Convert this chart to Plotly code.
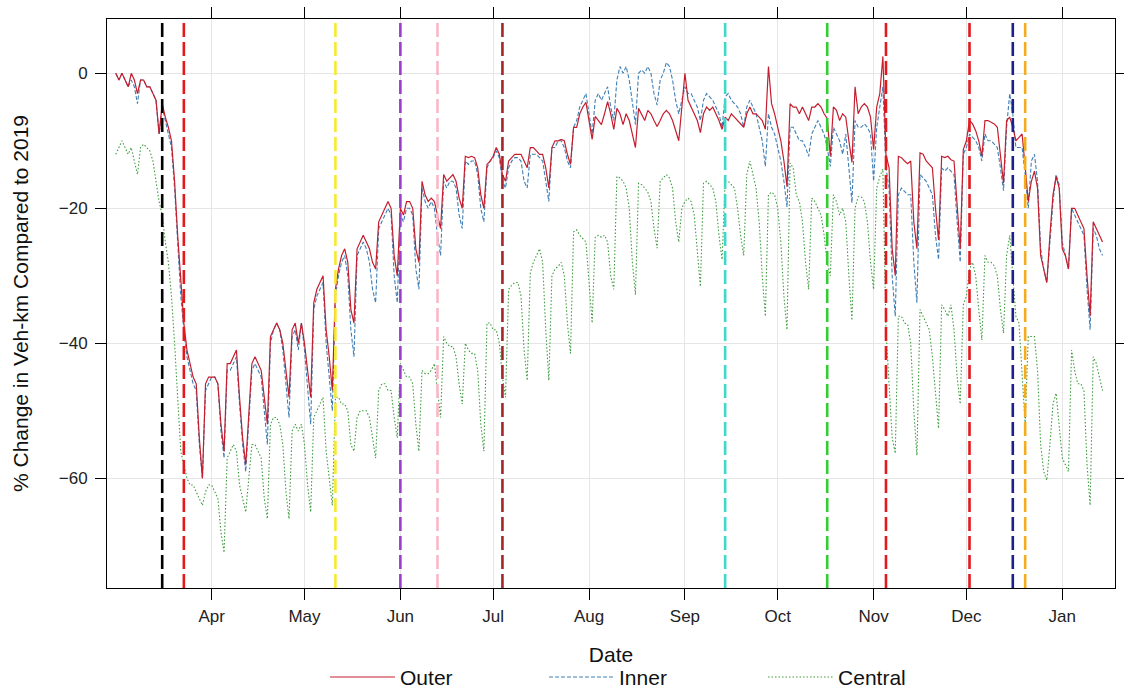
import plotly.graph_objects as go
import pandas as pd

start_date = "2020-03-01"

# % change in vehicle-km compared to 2019, daily from 1 Mar 2020 (rows = Mon..Sun weeks)
outer = [0,
    -1, 0, -1, -2, 0, -1, -3,
    -1, -1, -2, -2, -3, -4, -9,
    -4.5, -6.5, -8, -10, -16, -24, -31,
    -37, -41, -43, -45, -46, -54, -60,
    -46, -45, -45, -45, -46, -52, -56,
    -43, -43, -42, -41, -48, -54, -58,
    -50, -43, -42, -43, -44, -48, -52,
    -39, -38, -37, -38, -40, -44, -48,
    -38, -37, -40, -37, -40, -44, -48,
    -34, -32, -31, -30, -38, -42, -47,
    -32, -29, -27, -26, -28, -35, -37,
    -26, -25, -24, -25, -26, -28, -29,
    -22, -21, -20, -19, -20, -27, -30,
    -20, -21, -19, -19, -20, -26, -28,
    -16, -18, -19, -18.5, -19, -21, -23,
    -15, -16, -15.5, -15, -16, -18.5, -20,
    -12.3, -12.5, -12.3, -12.5, -14, -18, -20,
    -13.5, -13, -12.3, -11, -12, -15, -16,
    -13, -12.5, -12, -12, -12, -13, -14,
    -11, -11, -11.5, -12, -12, -14, -17,
    -11, -10, -10, -9.8, -10, -12, -13.5,
    -8, -8, -6, -5, -4.3, -7, -9.8,
    -6.4, -7, -7.6, -6, -4.2, -6, -8.3,
    -5.2, -6, -7.6, -6, -7, -9, -11,
    -5.2, -6, -7, -5.5, -6, -7, -7.9,
    -7, -6, -5.5, -6, -7, -8.5, -10,
    -5, 0, -4, -5, -6, -7, -8.8,
    -6, -5, -5.5, -5, -6, -7, -8.3,
    -6.5, -7, -6, -6.5, -7, -7.5, -8,
    -6, -5, -6, -6, -6.5, -7, -8.3,
    1, -4.5, -6, -8, -10, -13, -16.8,
    -4.5, -5, -5, -6, -5, -6, -7,
    -5, -5, -4.5, -5, -6, -6.7, -12.3,
    -5, -5.5, -7, -6, -6.5, -10, -13.2,
    -2, -6, -5, -4.5, -5, -6.5, -11.3,
    -5, -3, 2.5, -12, -14, -26, -30,
    -12.3, -12.5, -13, -13.4, -13, -22, -26,
    -11.8, -12, -13, -13.5, -14, -20, -24.7,
    -12.3, -12.5, -12.3, -12.8, -13, -20, -26,
    -11.3, -10, -7, -7.5, -8.5, -10, -12.3,
    -7, -7, -7.2, -7.5, -8, -12, -16.3,
    -7, -6.5, -8, -10, -9.5, -9, -13.8,
    -19, -16, -14.5, -17, -27, -29, -31,
    -24, -18, -15.3, -17, -26, -27, -29,
    -20, -20, -21, -22, -23, -30, -36,
    -22, -23, -24, -25]

inner = [0,
    -1, 0, -1, -2, -1, -2, -4.5,
    -1, -1, -2, -2, -3, -4, -9,
    -5, -7, -9, -11, -17, -25, -33,
    -38, -42, -44, -46, -47, -55, -60,
    -47, -46, -45, -45, -46, -53, -57,
    -44, -44, -43, -42, -49, -55, -59,
    -51, -44, -43, -44, -45, -50, -55,
    -40, -38, -37, -38, -41, -46, -51,
    -39, -38, -41, -37, -41, -47, -52,
    -35, -33, -32, -31, -40, -45, -50,
    -33, -30, -28, -27, -30, -38, -42,
    -27, -26, -25, -26, -28, -32, -34,
    -23, -22, -21, -20, -21, -30, -34,
    -21, -22, -20, -20, -21, -29, -32,
    -17, -19, -20, -19, -20, -24, -27,
    -16, -17, -16, -16, -17, -21, -23,
    -13, -13.5, -13, -13, -15, -20, -22,
    -14, -13, -12.5, -11.5, -12.5, -16, -17,
    -14, -13, -12.5, -12.5, -13, -16, -17,
    -12, -12, -12, -12.5, -13, -16, -19,
    -11, -11, -10, -10, -11, -13, -14,
    -8, -7, -5, -4, -3, -6, -9,
    -4, -3, -4, -3, -2, -5, -7,
    -1, 1, 0, 1, -1, -4, -7.6,
    0, 0.5, 0, 1, 0, -3, -4.7,
    -1, 0, 1.6, 1, -1, -4, -6,
    -4, -2, -3, -3, -4, -5, -7,
    -4, -3, -3.5, -4, -5, -6, -8,
    -3.5, -3, -4, -4.5, -5, -6, -8,
    -5, -4, -5, -6, -8, -10, -13.8,
    -6, -8, -9, -11, -13, -16, -19.8,
    -8, -8, -9, -10, -10, -11, -12.3,
    -9, -8, -7, -8, -9, -11, -13.8,
    -8, -9, -10, -12, -9, -14, -19.2,
    -7, -8, -8, -7.5, -8, -9, -16,
    -8, -5, -2, -14, -17, -30, -36,
    -18, -17, -17.5, -18, -18, -28, -34,
    -15, -15.5, -16, -17, -18, -24, -27.6,
    -14, -14.5, -14, -14.5, -15, -22, -28,
    -12, -11, -9, -9.5, -10, -11, -13,
    -9, -10, -10, -10.5, -11, -14, -17.4,
    -8, -3, -6, -11, -11, -11, -15,
    -20, -13, -12, -16, -26, -29, -31,
    -25, -19, -15, -16.5, -25, -27, -29,
    -20, -21, -22, -23, -24, -32, -38,
    -23, -24, -26, -27]

central = [-12,
    -11, -10, -11, -12, -11, -13, -15,
    -11, -10.5, -11, -11.5, -13, -16, -19,
    -21, -25, -28, -33, -40, -48, -56,
    -58, -60, -61, -61, -62, -63, -64,
    -62, -61, -61, -62, -63, -68, -71,
    -57, -56, -55, -56, -61, -63, -65,
    -60, -55, -55, -56, -57, -63, -66,
    -52, -51, -51, -52, -55, -62, -66,
    -53, -52, -53, -52, -55, -61, -65,
    -51, -50, -49, -48, -56, -60, -64,
    -48, -48, -49, -49, -50, -55, -56,
    -51, -50, -50, -50, -51, -54, -57,
    -47, -46, -46, -47, -47, -51, -54,
    -43, -44, -45, -45, -46, -52, -56,
    -44, -44.5, -44.5, -44, -43, -47, -51,
    -39, -40, -40.5, -40.5, -42, -46, -49,
    -40, -41, -41.5, -41.5, -44, -52, -56,
    -37, -37, -38, -38, -40, -45, -48,
    -32, -31.4, -31, -31, -33, -41, -45.5,
    -29.6, -28, -27, -26, -28, -38, -45.5,
    -30, -29, -28.6, -28, -30, -37, -41.5,
    -23.5, -23.2, -24, -24.5, -25, -31, -37,
    -24.3, -24, -24.3, -24, -25, -30, -32,
    -15.3, -15.5, -16, -17, -20, -28, -32.8,
    -16.3, -16.5, -17, -17.6, -19, -23, -25.9,
    -16, -15.5, -15, -15.5, -17, -22, -25,
    -20, -19, -18.5, -19, -21, -27, -31.6,
    -16.3, -16, -16.5, -17, -19, -24, -27.6,
    -16, -16, -16.5, -17, -20, -24, -27,
    -15, -13, -15, -17, -22, -30, -36,
    -18, -17.6, -18, -20, -25, -33, -38,
    -13.3, -14, -18, -19, -22, -28, -32,
    -18.5, -19, -20, -21, -24, -28, -30,
    -18, -19, -21, -20, -22, -30, -36.6,
    -20, -18.3, -18.3, -19, -22, -28, -32,
    -17, -15.3, -14.2, -38, -46, -54, -56.3,
    -36, -36, -37, -37.2, -40, -50, -56.6,
    -35, -36, -37, -38, -42, -48, -52.6,
    -34.3, -35, -36, -34.3, -38, -45, -49,
    -34.3, -33, -29, -28, -30, -35, -39.5,
    -27, -28, -28, -28.5, -30, -35, -38.5,
    -27, -24, -30, -36, -37, -44, -52,
    -39, -39, -39, -44, -55, -59, -60.3,
    -55, -49, -47.4, -52, -57, -58, -59,
    -41, -44, -46, -46, -47, -58, -64,
    -42, -43, -45, -47]

series_names = ["Outer", "Inner", "Central"]

event_dates = ["2020-03-16", "2020-03-23", "2020-05-11", "2020-06-01", "2020-06-13",
               "2020-07-04", "2020-09-14", "2020-10-17", "2020-11-05", "2020-12-02",
               "2020-12-16", "2020-12-20"]
event_colors = ["#000000", "#E31A1C", "#F7EA2E", "#9A3DC9", "#F8B8C6", "#A3262B",
                "#3FD8C8", "#33CC33", "#E31A1C", "#E31A1C", "#1E1E8C", "#F4AC1E"]

month_ticks = ["2020-04-01", "2020-05-01", "2020-06-01", "2020-07-01", "2020-08-01",
               "2020-09-01", "2020-10-01", "2020-11-01", "2020-12-01", "2021-01-01"]
month_labels = ["Apr", "May", "Jun", "Jul", "Aug", "Sep", "Oct", "Nov", "Dec", "Jan"]

y_ticks = [0, -20, -40, -60]

dates = pd.date_range(start_date, periods=len(outer), freq="D")

FONT = "Liberation Sans, Arial, sans-serif"

fig = go.Figure()
fig.add_trace(go.Scatter(x=dates, y=central, mode="lines", name=series_names[2],
                         line=dict(color="#3C9A3C", width=1.1, dash="1.5px,2px")))
fig.add_trace(go.Scatter(x=dates, y=inner, mode="lines", name=series_names[1],
                         line=dict(color="#3F7FB5", width=1.1, dash="4px,2px")))
fig.add_trace(go.Scatter(x=dates, y=outer, mode="lines", name=series_names[0],
                         line=dict(color="#C41E2E", width=1.2)))

for d, c in zip(event_dates, event_colors):
    fig.add_shape(type="line", xref="x", yref="paper", x0=d, x1=d, y0=0, y1=1,
                  line=dict(color=c, width=2.6, dash="14px,5px"), layer="above")

fig.update_layout(
    template="none",
    width=1124, height=697,
    margin=dict(l=107, r=9, t=19, b=109, autoexpand=False),
    paper_bgcolor="white", plot_bgcolor="white",
    font=dict(family=FONT, color="#111111"),
    showlegend=True,
    legend=dict(orientation="h", traceorder="reversed",
                x=0.2163, xanchor="left", y=-0.121, yanchor="top",
                font=dict(size=21, family=FONT, color="#111111"),
                entrywidth=139, entrywidthmode="pixels", itemwidth=65,
                bgcolor="rgba(0,0,0,0)"),
    xaxis=dict(
        type="date",
        range=["2020-02-27 03:40", "2021-01-18 01:00"],
        tickvals=month_ticks, ticktext=month_labels,
        ticks="outside", ticklen=11, tickwidth=1, tickcolor="#000000",
        showline=True, linecolor="#000000", linewidth=1, mirror="ticks",
        showgrid=True, gridcolor="#E6E6E6", gridwidth=1, zeroline=False,
        tickfont=dict(size=17, family=FONT, color="#222222"),
        ticklabelstandoff=2,
        title=dict(text="Date", font=dict(size=21, family=FONT, color="#111111"), standoff=21),
        automargin=False,
    ),
    yaxis=dict(
        range=[-76.25, 8.04],
        tickvals=y_ticks,
        ticks="outside", ticklen=11, tickwidth=1, tickcolor="#000000",
        showline=True, linecolor="#000000", linewidth=1, mirror="ticks",
        showgrid=True, gridcolor="#E6E6E6", gridwidth=1, zeroline=False,
        tickfont=dict(size=17, family=FONT, color="#222222"),
        ticklabelstandoff=4,
        title=dict(text="% Change in Veh-km Compared to 2019",
                   font=dict(size=21, family=FONT, color="#111111"), standoff=24),
        automargin=False,
    ),
)

fig.write_html("out.html")
